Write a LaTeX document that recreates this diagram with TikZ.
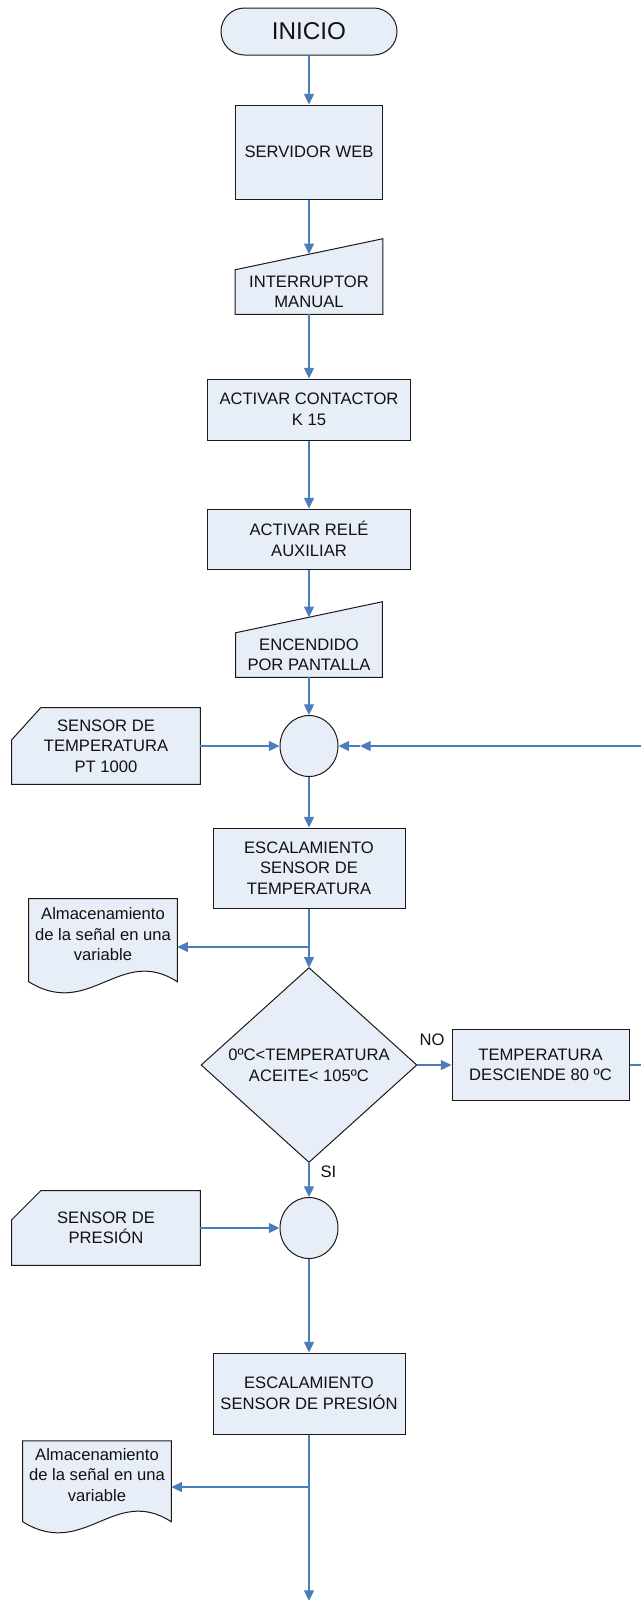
\documentclass[tikz,border=0pt]{standalone}
\usepackage{fontspec}
\setmainfont{Liberation Sans}
\usetikzlibrary{arrows.meta,shapes.geometric,calc,backgrounds}
\definecolor{boxfill}{HTML}{E8EEF7}
\definecolor{flowblue}{HTML}{4A7EBB}
\definecolor{outline}{HTML}{1A1A1A}
\definecolor{ink}{HTML}{111111}

\begin{document}
\begin{tikzpicture}[x=0.75pt,y=-0.75pt,
  every node/.style={font=\fontsize{12.45}{15.4}\selectfont, text=ink, inner sep=0pt, align=center},
  outlinefill/.style={draw=outline, fill=boxfill, line width=0.75pt},
  procbox/.style args={#1x#2}{outlinefill, rectangle, minimum width={#1*0.75pt}, minimum height={#2*0.75pt}},
  holder/.style args={#1x#2}{rectangle, minimum width={#1*0.75pt}, minimum height={#2*0.75pt}},
  termbox/.style={outlinefill, rectangle, rounded corners=17.6pt, minimum width=132pt, minimum height=35.25pt},
  joint/.style={outlinefill, ellipse, minimum width=43.5pt, minimum height=45.75pt},
  flow/.style={draw=flowblue, line width=0.9pt, -{Triangle[length=8pt,width=7.5pt]}}]

\useasboundingbox (0,0) rectangle (641,1600);

% main column
\node[termbox] (inicio) at (309,31.5) {\fontsize{18.2}{22}\selectfont INICIO};
\node[procbox=147x94] (servidor) at (309,152) {SERVIDOR WEB};
\node[holder=147x44] (interruptor) at (309,292) {INTERRUPTOR\\MANUAL};
\node[procbox=203x61] (contactor) at (309,409.5) {ACTIVAR CONTACTOR\\K 15};
\node[procbox=203x60] (rele) at (309,539) {ACTIVAR RELÉ\\AUXILIAR};
\node[holder=146x44] (encendido) at (309,655) {ENCENDIDO\\POR PANTALLA};
\node[joint] (union1) at (309,746) {};
\node[holder=188x76] (sensorT) at (106,746) {SENSOR DE\\TEMPERATURA\\PT 1000};
\node[procbox=192x80] (escT) at (309,868) {ESCALAMIENTO\\SENSOR DE\\TEMPERATURA};
\node[holder=148x71] (almT) at (103,934.5) {Almacenamiento\\de la señal en una\\variable};
\node[holder=215x194] (decision) at (309,1065) {0ºC<TEMPERATURA\\ACEITE< 105ºC};
\node[procbox=177x71] (baja) at (540.5,1065) {TEMPERATURA\\DESCIENDE 80 ºC};
\node[joint] (union2) at (309,1228) {};
\node[holder=188x74] (sensorP) at (106,1228) {SENSOR DE\\PRESIÓN};
\node[procbox=192x81] (escP) at (309,1393.5) {ESCALAMIENTO\\SENSOR DE PRESIÓN};
\node[holder=148x68] (almP) at (97,1475) {Almacenamiento\\de la señal en una\\variable};

% branch labels
\node (no) at (432,1040) {NO};
\node (si) at (328.5,1172) {SI};

% outlines of the non-rectangular symbols
\begin{pgfonlayer}{background}
  \path[outlinefill] (interruptor.south west) -- (interruptor.south east)
    -- ($(interruptor.north east)+(0,-31)$) -- (interruptor.north west) -- cycle;
  \path[outlinefill] (encendido.south west) -- (encendido.south east)
    -- ($(encendido.north east)+(0,-31)$) -- (encendido.north west) -- cycle;
  \path[outlinefill] (sensorT.south west) -- (sensorT.south east) -- (sensorT.north east)
    -- ($(sensorT.north west)+(29,0)$) -- ($(sensorT.north west)+(0,32)$) -- cycle;
  \path[outlinefill] (sensorP.south west) -- (sensorP.south east) -- (sensorP.north east)
    -- ($(sensorP.north west)+(29,0)$) -- ($(sensorP.north west)+(0,29)$) -- cycle;
  \path[outlinefill] (almT.north west) -- (almT.north east) -- ++(0,83)
    .. controls +(-57,-37) and +(61,38) .. ($(almT.north west)+(0,83)$) -- cycle;
  \path[outlinefill] (almP.north west) -- (almP.north east) -- ++(0,81)
    .. controls +(-57,-37) and +(61,38) .. ($(almP.north west)+(0,81)$) -- cycle;
  \path[outlinefill] (decision.north) -- (decision.east) -- (decision.south)
    -- (decision.west) -- cycle;
\end{pgfonlayer}

% connectors
\begin{scope}
  \clip (0,0) rectangle (641,1600);
  \coordinate (intrtop) at ($(interruptor.north)+(0,-15.5)$);
  \coordinate (enctop) at ($(encendido.north)+(0,-15.5)$);
  \coordinate (splitT) at (309,947);
  \coordinate (splitP) at (309,1487);
  \coordinate (loopin) at (360,746);
  \coordinate (rim) at (645,746);
  \coordinate (fin) at (309,1601);

  \draw[flow] (inicio.south) -- (servidor.north);
  \draw[flow] (servidor.south) -- (intrtop);
  \draw[flow] (interruptor.south) -- (contactor.north);
  \draw[flow] (contactor.south) -- (rele.north);
  \draw[flow] (rele.south) -- (enctop);
  \draw[flow] (encendido.south) -- (union1.north);
  \draw[flow] (sensorT.east) -- (union1.west);
  \draw[flow] (union1.south) -- (escT.north);
  \draw[flow] (escT.south) -- (decision.north);
  \draw[flow] (splitT) -- (splitT -| almT.east);
  \draw[flow] (decision.east) -- (baja.west);
  \draw[flow] (baja.east) -| (rim) -- (loopin);
  \draw[flow] (loopin) -- (union1.east);
  \draw[flow] (decision.south) -- (union2.north);
  \draw[flow] (sensorP.east) -- (union2.west);
  \draw[flow] (union2.south) -- (escP.north);
  \draw[flow] (escP.south) -- (fin);
  \draw[flow] (splitP) -- (splitP -| almP.east);
\end{scope}
\end{tikzpicture}
\end{document}
